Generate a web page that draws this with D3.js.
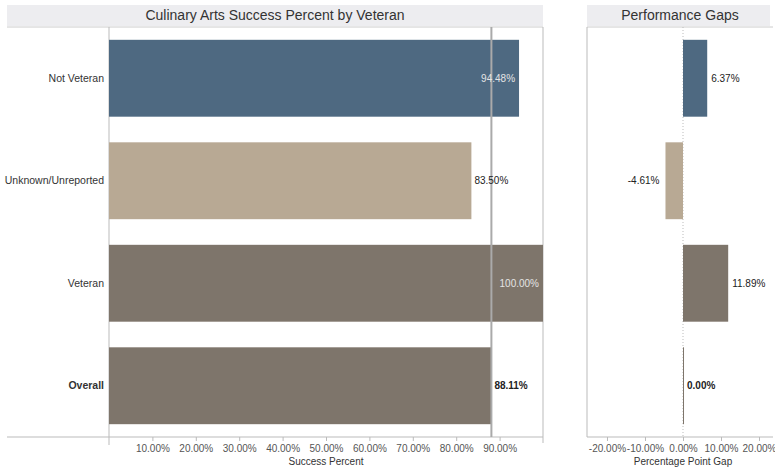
<!DOCTYPE html>
<html>
<head>
<meta charset="utf-8">
<script src="https://cdn.jsdelivr.net/npm/d3@7"></script>
<style>
  body { margin: 0; background: #fff; }
  svg { font-family: "Liberation Sans", Arial, Helvetica, sans-serif; }
  .tick-label { font-size: 10px; fill: #555; }
  .axis-title { font-size: 10px; fill: #333; }
  .cat-label { font-size: 10.5px; fill: #333; }
  .val-label { font-size: 10px; }
</style>
</head>
<body>
<svg id="chart" width="775" height="469"></svg>
<script>
const categories = ['Not Veteran', 'Unknown/Unreported', 'Veteran', 'Overall'];
const successPct = [0.9448, 0.8350, 1.0000, 0.8811];
const gapPct = [0.0637, -0.0461, 0.1189, 0.0000];
const barColors = ['#4e6981', '#b8a994', '#7e756b', '#7e756b'];
const successTicks = [0.1, 0.2, 0.3, 0.4, 0.5, 0.6, 0.7, 0.8, 0.9];
const gapTicks = [-0.2, -0.1, 0, 0.1, 0.2];
const overallValue = 0.8811;

const svg = d3.select('#chart');
// plain hyphen for negatives, like the original
const fmt = d3.formatLocale({ decimal: '.', thousands: ',', grouping: [3], currency: ['$', ''], minus: '-' }).format('.2%');

const plotTop = 27, plotBottom = 437;
const y = d3.scaleBand().domain(categories).range([plotTop, plotBottom])
  .paddingInner(0.25).paddingOuter(0.125);

// ---- left panel ----
const xL = d3.scaleLinear().domain([0, 1]).range([109, 543]);

svg.append('rect').attr('x', 7).attr('y', 5).attr('width', 536).attr('height', 21)
  .attr('fill', '#ededf0');
svg.append('text').attr('x', 275).attr('y', 20).attr('text-anchor', 'middle')
  .attr('font-size', 14).attr('fill', '#333')
  .text('Culinary Arts Success Percent by Veteran');

const left = svg.append('g');
left.append('line').attr('x1', 7).attr('x2', 543).attr('y1', plotTop).attr('y2', plotTop)
  .attr('stroke', '#ccc');
left.append('line').attr('x1', 7).attr('x2', 543).attr('y1', plotBottom).attr('y2', plotBottom)
  .attr('stroke', '#bbb');
left.append('line').attr('x1', xL(0)).attr('x2', xL(0)).attr('y1', plotTop).attr('y2', plotBottom + 8)
  .attr('stroke', '#bbb');
left.append('line').attr('x1', xL(1)).attr('x2', xL(1)).attr('y1', plotTop).attr('y2', plotBottom + 6)
  .attr('stroke', '#bbb');

left.selectAll('rect.bar').data(categories).join('rect')
  .attr('class', 'bar')
  .attr('x', xL(0))
  .attr('y', d => y(d))
  .attr('width', (d, i) => xL(successPct[i]) - xL(0))
  .attr('height', y.bandwidth())
  .attr('fill', (d, i) => barColors[i]);

// reference line for overall
left.append('line').attr('x1', xL(overallValue)).attr('x2', xL(overallValue))
  .attr('y1', plotTop).attr('y2', plotBottom)
  .attr('stroke', '#aaa').attr('stroke-width', 2);

left.selectAll('text.cat').data(categories).join('text')
  .attr('class', 'cat-label')
  .attr('x', 104)
  .attr('y', d => y(d) + y.bandwidth() / 2 + 3.5)
  .attr('text-anchor', 'end')
  .attr('font-weight', d => d === 'Overall' ? 'bold' : 'normal')
  .text(d => d);

left.selectAll('text.val').data(categories).join('text')
  .attr('class', 'val-label')
  .each(function (d, i) {
    const v = successPct[i];
    const inside = v > 0.94;
    d3.select(this)
      .attr('x', inside ? xL(v) - 4 : xL(v) + 3)
      .attr('y', y(d) + y.bandwidth() / 2 + 3.5)
      .attr('text-anchor', inside ? 'end' : 'start')
      .attr('fill', inside ? '#e4e4e4' : '#222')
      .attr('font-weight', d === 'Overall' ? 'bold' : 'normal')
      .text(fmt(v));
  });

const axL = left.append('g').attr('transform', `translate(0,${plotBottom})`)
  .call(d3.axisBottom(xL).tickValues(successTicks).tickFormat(fmt).tickSize(4).tickPadding(4))
  .call(g => g.select('.domain').remove());
axL.selectAll('line').attr('stroke', '#bbb');
axL.selectAll('text').attr('class', 'tick-label').attr('font-size', null).attr('fill', null);

left.append('text').attr('class', 'axis-title').attr('x', (xL(0) + xL(1)) / 2).attr('y', 465)
  .attr('text-anchor', 'middle').text('Success Percent');

// ---- right panel ----
const xR = d3.scaleLinear().domain([-0.2526, 0.2368]).range([587, 773]);

svg.append('rect').attr('x', 587).attr('y', 5).attr('width', 183).attr('height', 21)
  .attr('fill', '#ededf0');
svg.append('text').attr('x', 680).attr('y', 20).attr('text-anchor', 'middle')
  .attr('font-size', 14).attr('fill', '#333')
  .text('Performance Gaps');

const right = svg.append('g');
right.append('line').attr('x1', 587).attr('x2', 773).attr('y1', plotTop).attr('y2', plotTop)
  .attr('stroke', '#ccc');
right.append('line').attr('x1', 587).attr('x2', 773).attr('y1', plotBottom).attr('y2', plotBottom)
  .attr('stroke', '#bbb');
right.append('line').attr('x1', 587).attr('x2', 587).attr('y1', plotTop).attr('y2', plotBottom)
  .attr('stroke', '#bbb');
right.append('line').attr('x1', xR(0)).attr('x2', xR(0)).attr('y1', plotTop).attr('y2', plotBottom)
  .attr('stroke', '#bbb').attr('stroke-dasharray', '1,2');

right.selectAll('rect.bar').data(categories).join('rect')
  .attr('class', 'bar')
  .attr('x', (d, i) => Math.min(xR(0), xR(gapPct[i])))
  .attr('y', d => y(d))
  .attr('width', (d, i) => Math.max(1, Math.abs(xR(gapPct[i]) - xR(0))))
  .attr('height', y.bandwidth())
  .attr('fill', (d, i) => barColors[i]);

right.selectAll('text.val').data(categories).join('text')
  .attr('class', 'val-label')
  .each(function (d, i) {
    const v = gapPct[i];
    const neg = v < 0;
    d3.select(this)
      .attr('x', neg ? xR(v) - 6 : xR(v) + 4)
      .attr('y', y(d) + y.bandwidth() / 2 + 3.5)
      .attr('text-anchor', neg ? 'end' : 'start')
      .attr('fill', '#222')
      .attr('font-weight', d === 'Overall' ? 'bold' : 'normal')
      .text(fmt(v));
  });

const axR = right.append('g').attr('transform', `translate(0,${plotBottom})`)
  .call(d3.axisBottom(xR).tickValues(gapTicks).tickFormat(fmt).tickSize(4).tickPadding(4))
  .call(g => g.select('.domain').remove());
axR.selectAll('line').attr('stroke', '#bbb');
axR.selectAll('text').attr('class', 'tick-label').attr('font-size', null).attr('fill', null);

right.append('text').attr('class', 'axis-title').attr('x', xR(0)).attr('y', 465)
  .attr('text-anchor', 'middle').text('Percentage Point Gap');
</script>
</body>
</html>
